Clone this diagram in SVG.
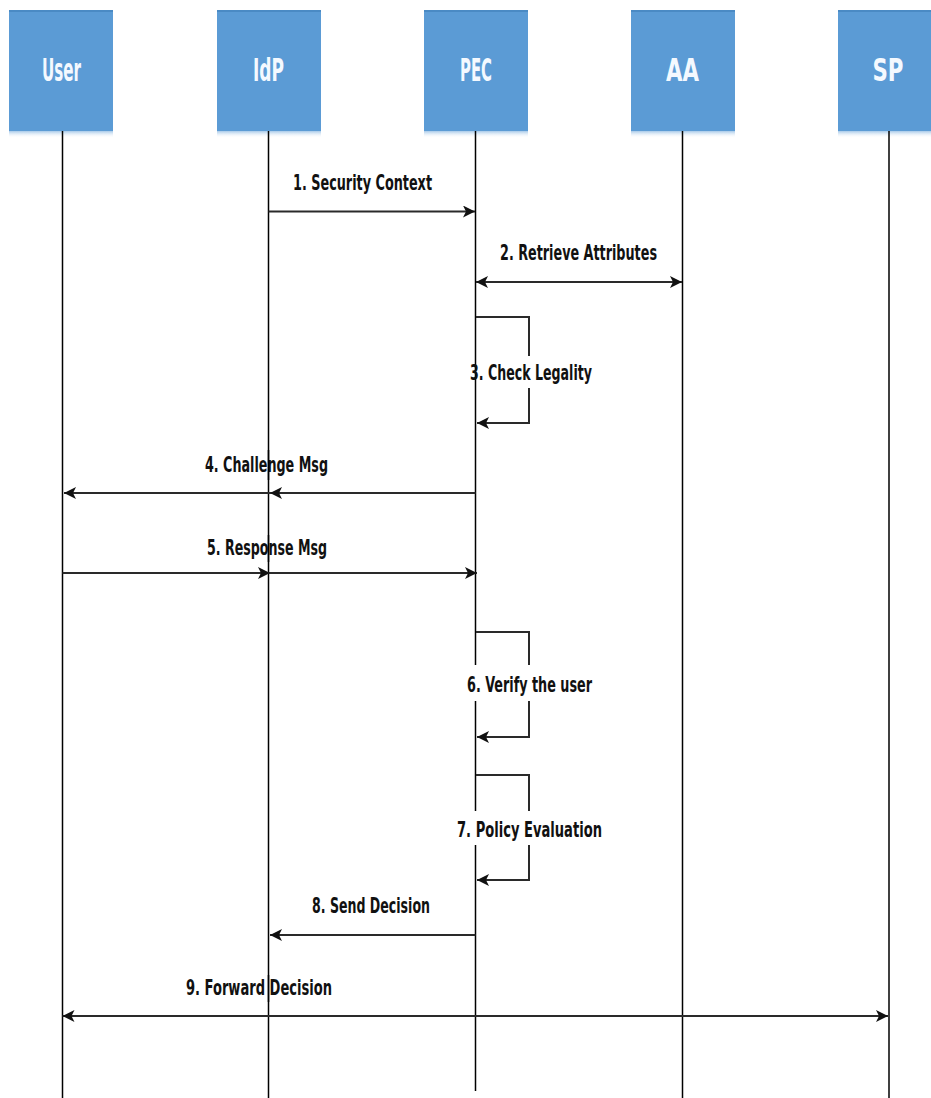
<svg xmlns="http://www.w3.org/2000/svg" width="931" height="1098" viewBox="0 0 931 1098">
  <defs>
    <linearGradient id="shadow" x1="0" y1="0" x2="0" y2="1">
      <stop offset="0" stop-color="#9dc3e6" stop-opacity="0.9"/>
      <stop offset="1" stop-color="#ffffff" stop-opacity="0"/>
    </linearGradient>
    <marker id="ah" viewBox="0 0 10 10" refX="10" refY="5" markerWidth="12" markerHeight="12" markerUnits="userSpaceOnUse" orient="auto-start-reverse">
      <path d="M0,0 L10,5 L0,10 L2.5,5 z" fill="#111"/>
    </marker>
    <style>
      .box { fill: #5b9bd5; }
      .boxtop { fill: #4a8ac4; }
      .hdr { font-family: "DejaVu Sans Condensed", "DejaVu Sans", sans-serif; font-weight: bold; font-size: 32px; fill: #f4f9ff; text-anchor: middle; }
      .life { stroke: #000; stroke-width: 1.5; fill: none; }
      .msg { stroke: #2a2a2a; stroke-width: 2; fill: none; marker-end: url(#ah); }
      .dbl { marker-start: url(#ah); }
      .lbl { font-family: "DejaVu Sans Condensed", "DejaVu Sans", sans-serif; font-weight: bold; font-size: 22px; fill: #111; }
      .bg { fill: #fff; }
    </style>
  </defs>

  <g id="node-user">
    <rect class="box" x="9" y="10" width="104" height="121"/>
    <rect class="boxtop" x="9" y="10" width="104" height="2"/>
    <rect x="9" y="131" width="104" height="7" fill="url(#shadow)"/>
    <text class="hdr" x="61.5" y="81" textLength="39" lengthAdjust="spacingAndGlyphs">User</text>
  </g>
  <g id="node-idp">
    <rect class="box" x="217" y="10" width="104" height="121"/>
    <rect class="boxtop" x="217" y="10" width="104" height="2"/>
    <rect x="217" y="131" width="104" height="7" fill="url(#shadow)"/>
    <text class="hdr" x="268.5" y="81" textLength="31" lengthAdjust="spacingAndGlyphs">IdP</text>
  </g>
  <g id="node-pec">
    <rect class="box" x="424" y="10" width="104" height="121"/>
    <rect class="boxtop" x="424" y="10" width="104" height="2"/>
    <rect x="424" y="131" width="104" height="7" fill="url(#shadow)"/>
    <text class="hdr" x="476" y="81" textLength="32" lengthAdjust="spacingAndGlyphs">PEC</text>
  </g>
  <g id="node-aa">
    <rect class="box" x="631" y="10" width="104" height="121"/>
    <rect class="boxtop" x="631" y="10" width="104" height="2"/>
    <rect x="631" y="131" width="104" height="7" fill="url(#shadow)"/>
    <text class="hdr" x="682.5" y="81" textLength="33" lengthAdjust="spacingAndGlyphs">AA</text>
  </g>
  <g id="node-sp">
    <rect class="box" x="838" y="10" width="104" height="121"/>
    <rect class="boxtop" x="838" y="10" width="104" height="2"/>
    <rect x="838" y="131" width="104" height="7" fill="url(#shadow)"/>
    <text class="hdr" x="888" y="81" textLength="31" lengthAdjust="spacingAndGlyphs">SP</text>
  </g>

  <g id="lifelines">
    <line class="life" x1="62.5" y1="131" x2="62.5" y2="1098"/>
    <line class="life" x1="268.5" y1="131" x2="268.5" y2="1098"/>
    <line class="life" x1="475.5" y1="131" x2="475.5" y2="1091"/>
    <line class="life" x1="682.5" y1="131" x2="682.5" y2="1098"/>
    <line class="life" x1="889" y1="131" x2="889" y2="1098"/>
  </g>

  <g id="connectors">
    <path class="msg" d="M268.5,211.5 H475"/>
    <path class="msg dbl" d="M476,282 H682"/>
    <path class="msg" d="M476,317 H529 V423 H477"/>
    <path class="msg" d="M475.5,493 H270"/>
    <path class="msg" d="M270,493 H64"/>
    <path class="msg" d="M62.5,573 H270"/>
    <path class="msg" d="M270,573 H477"/>
    <path class="msg" d="M476,632 H529 V737 H477"/>
    <path class="msg" d="M476,775 H529 V880 H477"/>
    <path class="msg" d="M475.5,935 H270"/>
    <path class="msg dbl" d="M62.5,1016 H888"/>
  </g>

  <g id="labels">
    <text class="lbl" x="293" y="190" textLength="139" lengthAdjust="spacingAndGlyphs">1. Security Context</text>
    <text class="lbl" x="500" y="260" textLength="157" lengthAdjust="spacingAndGlyphs">2. Retrieve Attributes</text>
    <rect class="bg" x="480" y="356" width="114" height="32"/>
    <text class="lbl" x="470" y="380" textLength="122" lengthAdjust="spacingAndGlyphs">3. Check Legality</text>
    <text class="lbl" x="205" y="472" textLength="123" lengthAdjust="spacingAndGlyphs">4. Challenge Msg</text>
    <text class="lbl" x="207" y="555" textLength="120" lengthAdjust="spacingAndGlyphs">5. Response Msg</text>
    <rect class="bg" x="465" y="665" width="129" height="36"/>
    <text class="lbl" x="467" y="692" textLength="125" lengthAdjust="spacingAndGlyphs">6. Verify the user</text>
    <rect class="bg" x="455" y="811" width="149" height="34"/>
    <text class="lbl" x="457" y="837" textLength="145" lengthAdjust="spacingAndGlyphs">7. Policy Evaluation</text>
    <text class="lbl" x="312" y="913" textLength="118" lengthAdjust="spacingAndGlyphs">8. Send Decision</text>
    <text class="lbl" x="186" y="995" textLength="146" lengthAdjust="spacingAndGlyphs">9. Forward Decision</text>
  </g>
  <g id="lifeline-overlays">
    <line class="life" x1="268.5" y1="450" x2="268.5" y2="480"/>
    <line class="life" x1="268.5" y1="535" x2="268.5" y2="562"/>
    <line class="life" x1="268.5" y1="975" x2="268.5" y2="1002"/>
  </g>
</svg>
